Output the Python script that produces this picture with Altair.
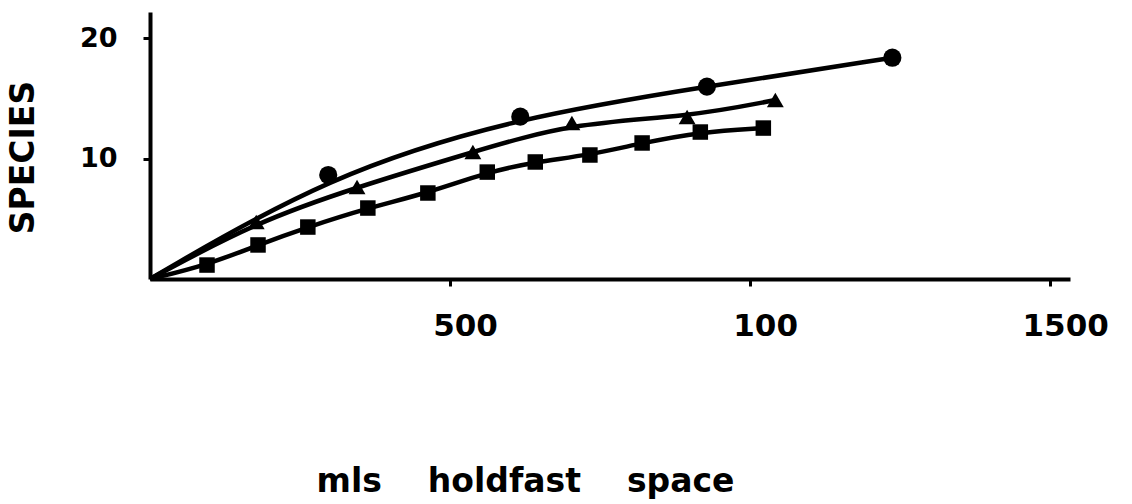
import altair as alt
import pandas as pd

# Circles series
circle_x = [297, 617, 928, 1237]
circle_y = [8.65, 13.5, 16.0, 18.4]
# Triangles series
tri_x = [177, 345, 538, 703, 895, 1042]
tri_y = [4.74, 7.65, 10.56, 12.97, 13.47, 14.88]
# Squares series
sq_x = [95, 180, 263, 363, 463, 562, 642, 733, 820, 917, 1022]
sq_y = [1.16, 2.83, 4.32, 5.90, 7.15, 8.89, 9.73, 10.31, 11.31, 12.22, 12.55]

x_ticks = [500, 1000, 1500]
y_ticks = [10, 20]

rows = []
for name, xs, ys in [("circle", circle_x, circle_y), ("triangle-up", tri_x, tri_y), ("square", sq_x, sq_y)]:
    for xv, yv in zip(xs, ys):
        rows.append({"series": name, "x": xv, "y": yv})
pts = pd.DataFrame(rows)

line_rows = []
for name, xs, ys in [("circle", circle_x, circle_y), ("triangle-up", tri_x, tri_y), ("square", sq_x, sq_y)]:
    line_rows.append({"series": name, "x": 0, "y": 0})
    for xv, yv in zip(xs, ys):
        line_rows.append({"series": name, "x": xv, "y": yv})
lines = pd.DataFrame(line_rows)

FONT = "DejaVu Sans"
NB = "\u00a0"

xscale = alt.Scale(domain=[0, 1533], nice=False, zero=True)
yscale = alt.Scale(domain=[0, 22.2], nice=False, zero=True)

xaxis = alt.Axis(
    values=x_ticks,
    labelExpr="datum.value == 1000 ? '100' : '' + datum.value",
    title="mls" + NB * 4 + "holdfast" + NB * 4 + "space",
    titleFont=FONT, titleFontSize=33, titleFontWeight="bold", titleColor="black",
    titleX=375, titleY=212, titleBaseline="alphabetic", titleAnchor="middle", titleAlign="center",
    labelFont=FONT, labelFontSize=31, labelFontWeight="bold", labelColor="black",
    labelPadding=25, labelOffset=15, labelBaseline="top",
    domainColor="black", domainWidth=4,
    tickColor="black", tickWidth=3, tickSize=7,
    grid=False,
)
yaxis = alt.Axis(
    values=y_ticks,
    title="SPECIES",
    titleFont=FONT, titleFontSize=33, titleFontWeight="bold", titleColor="black",
    titleX=-127, titleY=145, titleAngle=270, titleAlign="center", titleBaseline="middle",
    labelFont=FONT, labelFontSize=27, labelFontWeight="bold", labelColor="black",
    labelPadding=26,
    domainColor="black", domainWidth=4,
    tickColor="black", tickWidth=3, tickSize=7,
    grid=False,
)

line_layer = alt.Chart(lines).mark_line(
    color="black", strokeWidth=4.5, interpolate="basis", clip=False
).encode(
    x=alt.X("x:Q", scale=xscale, axis=xaxis),
    y=alt.Y("y:Q", scale=yscale, axis=yaxis),
    detail="series:N",
)

pt_layer = alt.Chart(pts).mark_point(
    filled=True, color="black", opacity=1, clip=False
).encode(
    x=alt.X("x:Q", scale=xscale),
    y=alt.Y("y:Q", scale=yscale),
    shape=alt.Shape("series:N", scale=alt.Scale(domain=["circle", "triangle-up", "square"],
                                                 range=["circle", "triangle-up", "square"]), legend=None),
    size=alt.Size("series:N", scale=alt.Scale(domain=["circle", "triangle-up", "square"],
                                               range=[330, 240, 220]), legend=None),
)

chart = alt.layer(line_layer, pt_layer).properties(
    width=920, height=267,
    autosize=alt.AutoSizeParams(type="none"),
    padding={"left": 150, "top": 12, "right": 62, "bottom": 225},
    background="white",
).configure_view(stroke=None)

chart.save("out.html", embed_options={"renderer": "svg", "actions": False})
